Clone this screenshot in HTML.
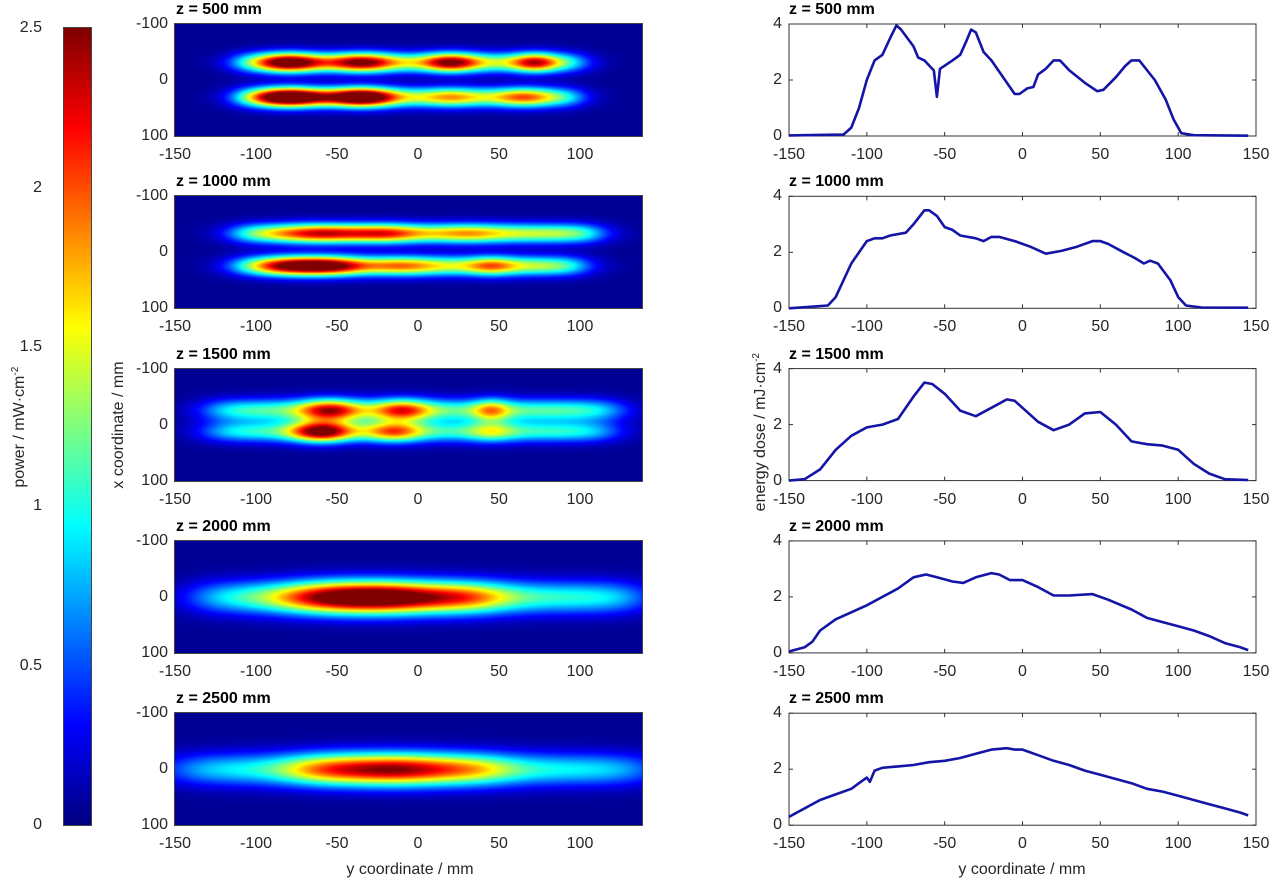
<!DOCTYPE html>
<html><head><meta charset="utf-8">
<style>
body{margin:0;width:1280px;height:890px;background:#fff;position:relative;overflow:hidden;font-family:"Liberation Sans",Arial,sans-serif;color:#262626}
.t{position:absolute;font-size:16px;line-height:16px;white-space:nowrap}
.b{font-weight:bold;color:#000}
.r{text-align:right;width:50px}
.c{text-align:center;width:60px}
canvas{position:absolute}
svg{position:absolute;left:0;top:0}
</style></head><body>
<canvas id="cb" width="27" height="797" style="left:64px;top:28px;width:27px;height:797px;outline:1px solid #444"></canvas>
<div class="t r" style="left:-8px;top:20px">2.5</div>
<div class="t r" style="left:-8px;top:180px">2</div>
<div class="t r" style="left:-8px;top:339px">1.5</div>
<div class="t r" style="left:-8px;top:498px">1</div>
<div class="t r" style="left:-8px;top:658px">0.5</div>
<div class="t r" style="left:-8px;top:817px">0</div>
<div class="t" style="left:-52px;top:417px;width:140px;text-align:center;transform:rotate(-90deg)">power / mW·cm<sup style="font-size:10px">-2</sup></div>
<div class="t" style="left:49px;top:417px;width:140px;text-align:center;transform:rotate(-90deg)">x coordinate / mm</div>
<div class="t" style="left:669px;top:422px;width:180px;text-align:center;transform:rotate(-90deg)">energy dose / mJ·cm<sup style="font-size:10px">-2</sup></div>
<div class="t" style="left:330px;top:862px;width:160px;text-align:center">y coordinate / mm</div>
<div class="t" style="left:942px;top:862px;width:160px;text-align:center">y coordinate / mm</div>
<div id="labels"></div>
<svg id="sv" width="1280" height="890"></svg>
<script>
var offs=[0,172.3,344.6,516.9,689.2];
var zs=["500","1000","1500","2000","2500"];
var L=document.getElementById('labels'),html='';
function lab(x,y,t,cls){html+='<div class="t '+cls+'" style="left:'+x+'px;top:'+y+'px">'+t+'</div>';}
var HX0=175,HS=1.62,RX0=789,RW=467,T=24,H=112;
offs.forEach(function(o,i){
 lab(176,o+2,'z = '+zs[i]+' mm','b');
 lab(789,o+2,'z = '+zs[i]+' mm','b');
 lab(118,o+T-8,'-100','r');lab(118,o+T+48,'0','r');lab(118,o+T+104,'100','r');
 [-150,-100,-50,0,50,100].forEach(function(v){lab(HX0+(v+150)*HS-30,o+T+H+11,v,'c');});
 lab(732,o+T-8,'4','r');lab(732,o+T+48,'2','r');lab(732,o+T+104,'0','r');
 [-150,-100,-50,0,50,100,150].forEach(function(v){lab(RX0+(v+150)/300*RW-30,o+T+H+11,v,'c');});
});
L.innerHTML=html;
function jet(v){v=Math.max(0,Math.min(1,v));function c(x){return Math.round(255*Math.max(0,Math.min(1,1.5-Math.abs(x))));}
 return [c(4*v-3),c(4*v-2),c(4*v-1)];}
var cb=document.getElementById('cb').getContext('2d');
for(var y=0;y<797;y++){var c=jet(1-y/796);cb.fillStyle='rgb('+c+')';cb.fillRect(0,y,27,1);}
var P=[
 [[-32,12,-112,100,6,1.3,[[-80,1.6,14],[-35,1.3,14],[20,1.3,12],[72,1.1,10]]],
  [30,12,-112,98,6,1.3,[[-80,2.0,16],[-35,1.9,14],[20,0.5,12],[65,0.7,12]]]],
 [[-34,12,-112,110,7,1.4,[[-60,0.9,20],[-20,0.7,15],[30,0.4,15]]],
  [24,12,-112,100,7,1.4,[[-80,1.1,15],[-55,1.2,15],[-10,0.5,15],[45,0.6,10]]]],
 [[-27,14,-128,122,8,1.1,[[-55,1.3,13],[-10,1.1,12],[45,0.8,8]]],
  [11,13,-128,118,8,1.0,[[-60,1.7,13],[-15,1.0,12],[45,0.5,10]]]],
 [[0,20,-135,135,10,1.0,[[-55,1.3,25],[-15,1.5,25],[30,0.8,20]]]],
 [[0,20,-148,140,12,0.9,[[-15,1.5,30],[-60,0.6,20],[35,0.5,20]]]]
];
function sig(z){return 1/(1+Math.exp(-z));}
offs.forEach(function(o,i){
 var cv=document.createElement('canvas');cv.width=467;cv.height=112;
 cv.style.cssText='left:175px;top:'+(o+T)+'px;width:467px;height:112px;outline:1px solid #444';
 document.body.appendChild(cv);var ctx=cv.getContext('2d');var im=ctx.createImageData(467,112);
 for(var py=0;py<112;py++)for(var px=0;px<467;px++){
  var ym=-150+px/HS, xm=-100+py/112*200, v=0.05;
  P[i].forEach(function(s){
   var dx=(xm-s[0])/s[1];var acr=Math.exp(-0.5*dx*dx);
   var w=sig((ym-s[2])/s[4])*sig((s[3]-ym)/s[4]);
   var a=s[5];s[6].forEach(function(q){var d=(ym-q[0])/q[2];a+=q[1]*Math.exp(-0.5*d*d);});
   v+=acr*w*a;});
  var c=jet(v/2.5),k=(py*467+px)*4;im.data[k]=c[0];im.data[k+1]=c[1];im.data[k+2]=c[2];im.data[k+3]=255;}
 ctx.putImageData(im,0,0);
});
var lines=[
"-150:0.02,-115:0.05,-110:0.3,-105:1.0,-100:2.0,-95:2.7,-90:2.9,-85:3.5,-81:3.95,-78:3.8,-70:3.2,-67:2.8,-63:2.7,-58:2.4,-57:2.35,-55:1.4,-53:2.4,-45:2.7,-40:2.9,-36:3.4,-33:3.8,-30:3.7,-25:3.0,-20:2.7,-10:1.9,-5:1.5,-2:1.5,3:1.7,7:1.75,10:2.2,15:2.4,20:2.7,24:2.7,30:2.35,40:1.9,48:1.6,52:1.65,60:2.1,66:2.5,70:2.7,75:2.7,85:2.0,92:1.3,97:0.6,102:0.1,110:0.03,145:0.01",
"-150:0,-125:0.1,-120:0.4,-110:1.6,-100:2.4,-95:2.5,-90:2.5,-85:2.6,-75:2.7,-70:3.0,-63:3.5,-60:3.5,-55:3.3,-50:2.9,-45:2.8,-40:2.6,-30:2.5,-25:2.4,-20:2.55,-15:2.55,-5:2.4,5:2.2,15:1.95,25:2.05,35:2.2,45:2.4,50:2.4,55:2.3,65:2.0,72:1.8,78:1.6,82:1.7,87:1.6,95:1.0,100:0.4,105:0.1,115:0.03,145:0.02",
"-150:0,-140:0.05,-130:0.4,-120:1.1,-110:1.6,-100:1.9,-90:2.0,-80:2.2,-70:3.0,-63:3.5,-58:3.45,-50:3.1,-40:2.5,-30:2.3,-20:2.6,-10:2.9,-5:2.85,0:2.6,10:2.1,20:1.8,30:2.0,40:2.4,50:2.45,60:2.0,70:1.4,80:1.3,90:1.25,100:1.1,110:0.6,120:0.25,130:0.05,145:0.02",
"-150:0.05,-140:0.2,-135:0.4,-130:0.8,-120:1.2,-110:1.45,-100:1.7,-90:2.0,-80:2.3,-70:2.7,-62:2.8,-55:2.7,-45:2.55,-38:2.5,-30:2.7,-20:2.85,-15:2.8,-8:2.6,0:2.6,10:2.35,20:2.05,30:2.05,45:2.1,55:1.9,70:1.55,80:1.25,90:1.1,100:0.95,110:0.8,120:0.6,130:0.35,140:0.2,145:0.1",
"-150:0.3,-140:0.6,-130:0.9,-120:1.1,-110:1.3,-105:1.5,-100:1.7,-98:1.55,-95:1.95,-90:2.05,-80:2.1,-70:2.15,-60:2.25,-50:2.3,-40:2.4,-30:2.55,-20:2.7,-10:2.75,-5:2.7,0:2.7,10:2.5,20:2.3,30:2.15,40:1.95,50:1.8,60:1.65,70:1.5,80:1.3,90:1.2,100:1.05,110:0.9,120:0.75,130:0.6,140:0.45,145:0.35"];
var s='';
offs.forEach(function(o,i){
 var y0=o+T;
 s+='<rect x="'+RX0+'" y="'+y0+'" width="'+RW+'" height="'+H+'" fill="none" stroke="#333" stroke-width="1"/>';
 for(var v=-150;v<=150;v+=50){var x=RX0+(v+150)/300*RW;s+='<line x1="'+x+'" x2="'+x+'" y1="'+(y0+H)+'" y2="'+(y0+H-4)+'" stroke="#333"/><line x1="'+x+'" x2="'+x+'" y1="'+y0+'" y2="'+(y0+4)+'" stroke="#333"/>';}
 [0,2,4].forEach(function(v){var y=y0+H-v/4*H;s+='<line x1="'+RX0+'" x2="'+(RX0+4)+'" y1="'+y+'" y2="'+y+'" stroke="#333"/><line x1="'+(RX0+RW-4)+'" x2="'+(RX0+RW)+'" y1="'+y+'" y2="'+y+'" stroke="#333"/>';});
 var pts=lines[i].split(',').map(function(p){var a=p.split(':');return (RX0+(+a[0]+150)/300*RW).toFixed(1)+','+(y0+H-(+a[1])/4*H).toFixed(1);}).join(' ');
 s+='<polyline points="'+pts+'" fill="none" stroke="#1414a6" stroke-width="2.6" stroke-linejoin="round"/>';
});
document.getElementById('sv').innerHTML=s;
</script>
</body></html>
